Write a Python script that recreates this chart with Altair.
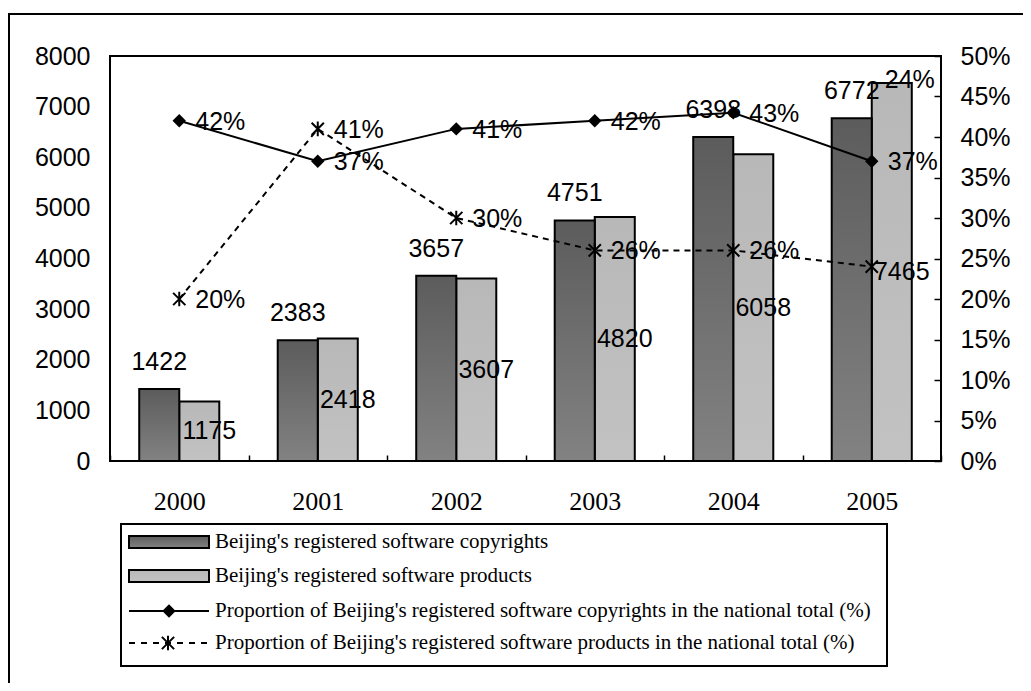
import altair as alt
import pandas as pd

years = ["2000", "2001", "2002", "2003", "2004", "2005"]
copyrights = [1422, 2383, 3657, 4751, 6398, 6772]
products = [1175, 2418, 3607, 4820, 6058, 7465]
copyright_share = [0.42, 0.37, 0.41, 0.42, 0.43, 0.37]
product_share = [0.20, 0.41, 0.30, 0.26, 0.26, 0.24]
series_names = [
    "Beijing's registered software copyrights",
    "Beijing's registered software products",
    "Proportion of Beijing's registered software copyrights in the national total (%)",
    "Proportion of Beijing's registered software products in the national total (%)",
]
left_ticks = [0, 1000, 2000, 3000, 4000, 5000, 6000, 7000, 8000]
right_ticks = [0, 0.05, 0.10, 0.15, 0.20, 0.25, 0.30, 0.35, 0.40, 0.45, 0.50]

df = pd.DataFrame({
    "year": years,
    "copyrights": copyrights,
    "products": products,
    "cshare": copyright_share,
    "pshare": product_share,
})
df["cs"] = "c"
df["ps"] = "p"
one = pd.DataFrame({"k": [0]})

SANS = "Liberation Sans"
SERIF = "Liberation Serif"

dark_grad = alt.Gradient(gradient="linear",
                         stops=[alt.GradientStop(offset=0, color="#5c5c5c"),
                                alt.GradientStop(offset=1, color="#828282")],
                         x1=0, x2=0, y1=0, y2=1)
light_grad = alt.Gradient(gradient="linear",
                          stops=[alt.GradientStop(offset=0, color="#b8b8b8"),
                                 alt.GradientStop(offset=1, color="#c2c2c2")],
                          x1=0, x2=0, y1=0, y2=1)

xaxis = alt.Axis(title=None, labelAngle=0, tickBand="extent", offset=-6, tickSize=6,
                 domain=False, grid=False, labelFont=SERIF, labelFontSize=26,
                 labelPadding=27, labelColor="black", tickColor="black", tickWidth=1.5)
xscale = alt.Scale(type="band", paddingInner=0, paddingOuter=0)
X = alt.X("year:N", scale=xscale, axis=xaxis, sort=years)
offscale = alt.Scale(domain=["c", "p"], paddingInner=0, paddingOuter=0.73)

lscale = alt.Scale(domain=[0, 8000], nice=False)
laxis = alt.Axis(title=None, values=left_ticks, format="d", ticks=False, tickSize=0,
                 domain=False, grid=False, labelPadding=20, labelFont=SANS,
                 labelFontSize=25, labelColor="black")
rscale = alt.Scale(domain=[0, 0.5], nice=False)
raxis = alt.Axis(title=None, orient="right", values=right_ticks, format=".0%",
                 offset=-7, tickSize=7, domain=False, grid=False, labelPadding=19,
                 labelFont=SANS, labelFontSize=25, labelColor="black",
                 tickColor="black", tickWidth=1.5)

base = alt.Chart(df)

light_bars = base.mark_bar(fill=light_grad, stroke="black", strokeWidth=2).encode(
    x=X, xOffset=alt.XOffset("ps:N", scale=offscale),
    y=alt.Y("products:Q", scale=lscale, axis=laxis))
prod_labels = base.transform_calculate(half="datum.products / 2").mark_text(
    font=SANS, fontSize=25, color="black", baseline="middle", dx=10).encode(
    x=X, xOffset=alt.XOffset("ps:N", scale=offscale),
    y=alt.Y("half:Q", scale=lscale, axis=laxis), text="products:Q")
dark_bars = base.mark_bar(fill=dark_grad, stroke="black", strokeWidth=2).encode(
    x=X, xOffset=alt.XOffset("cs:N", scale=offscale),
    y=alt.Y("copyrights:Q", scale=lscale, axis=laxis))
copy_labels = base.mark_text(font=SANS, fontSize=25, color="black",
                             baseline="middle", dy=-27).encode(
    x=X, xOffset=alt.XOffset("cs:N", scale=offscale),
    y=alt.Y("copyrights:Q", scale=lscale, axis=laxis), text="copyrights:Q")
moved_label = base.transform_filter(alt.datum.year == "2005").mark_text(
    font=SANS, fontSize=25, color="black", baseline="middle", dx=18, dy=-3).encode(
    x=X, xOffset=alt.XOffset("ps:N", scale=offscale),
    y=alt.Y("products:Q", scale=lscale, axis=laxis),
    text=alt.Text("pshare:Q", format=".0%"))

left = alt.layer(light_bars, prod_labels, dark_bars, copy_labels, moved_label)

asterisk = "M-1,-1L1,1M-1,1L1,-1M0,-1.2L0,1.2"

c_line = base.mark_line(color="black", strokeWidth=2).encode(
    x=X, y=alt.Y("cshare:Q", scale=rscale, axis=raxis))
p_line = base.mark_line(color="black", strokeWidth=2, strokeDash=[6, 5]).encode(
    x=X, y=alt.Y("pshare:Q", scale=rscale, axis=raxis))
c_pts = base.mark_point(shape="diamond", filled=True, color="black", size=180,
                        opacity=1).encode(
    x=X, y=alt.Y("cshare:Q", scale=rscale, axis=raxis))
p_pts = base.mark_point(shape=asterisk, filled=False, color="black", size=150,
                        strokeWidth=2, opacity=1).encode(
    x=X, y=alt.Y("pshare:Q", scale=rscale, axis=raxis))
c_text = base.mark_text(font=SANS, fontSize=25, color="black", align="left",
                        baseline="middle", dx=16, dy=1).encode(
    x=X, y=alt.Y("cshare:Q", scale=rscale, axis=raxis),
    text=alt.Text("cshare:Q", format=".0%"))
p_text = base.transform_filter(alt.datum.year != "2005").mark_text(
    font=SANS, fontSize=25, color="black", align="left", baseline="middle",
    dx=16, dy=1).encode(
    x=X, y=alt.Y("pshare:Q", scale=rscale, axis=raxis),
    text=alt.Text("pshare:Q", format=".0%"))

right = alt.layer(c_line, p_line, c_pts, p_pts, c_text, p_text)

# outer frame and legend (guides)
ob = alt.Chart(one)
frame = ob.mark_rect(filled=False, stroke="black", strokeWidth=2).encode(
    x=alt.value(-101), x2=alt.value(1000), y=alt.value(-42), y2=alt.value(700))
leg_box = ob.mark_rect(fill="white", stroke="black", strokeWidth=2).encode(
    x=alt.value(11), x2=alt.value(777), y=alt.value(468), y2=alt.value(610))
leg_r1 = ob.mark_rect(fill=dark_grad, stroke="black", strokeWidth=2).encode(
    x=alt.value(19), x2=alt.value(99), y=alt.value(480), y2=alt.value(492))
leg_r2 = ob.mark_rect(fill=light_grad, stroke="black", strokeWidth=2).encode(
    x=alt.value(19), x2=alt.value(99), y=alt.value(514), y2=alt.value(526))
leg_l3 = ob.mark_rule(color="black", strokeWidth=2).encode(
    x=alt.value(19), x2=alt.value(99), y=alt.value(555))
leg_p3 = ob.mark_point(shape="diamond", filled=True, color="black", size=180,
                       opacity=1).encode(x=alt.value(59), y=alt.value(555))
leg_l4 = ob.mark_rule(color="black", strokeWidth=2, strokeDash=[6, 6]).encode(
    x=alt.value(19), x2=alt.value(99), y=alt.value(587))
leg_p4 = ob.mark_point(shape=asterisk, filled=False, color="black", size=150,
                       strokeWidth=2, opacity=1).encode(x=alt.value(58), y=alt.value(587))
leg_texts = [
    ob.mark_text(font=SERIF, fontSize=21, color="black", align="left",
                 baseline="middle").encode(x=alt.value(105), y=alt.value(yv),
                                           text=alt.value(name))
    for name, yv in zip(series_names, [486, 520, 555, 587])
]

legend = alt.layer(leg_box, leg_r1, leg_r2, leg_l3, leg_p3, leg_l4, leg_p4, *leg_texts)

chart = alt.layer(frame, legend, left, right).resolve_scale(y="independent").properties(
    width=831, height=405,
    padding={"left": 102, "top": 48, "right": 82, "bottom": 222},
    autosize=alt.AutoSizeParams(type="none"),
    background="white",
).configure_view(stroke="black", strokeWidth=2)

chart.save("out.html", embed_options={"renderer": "svg", "actions": False})
